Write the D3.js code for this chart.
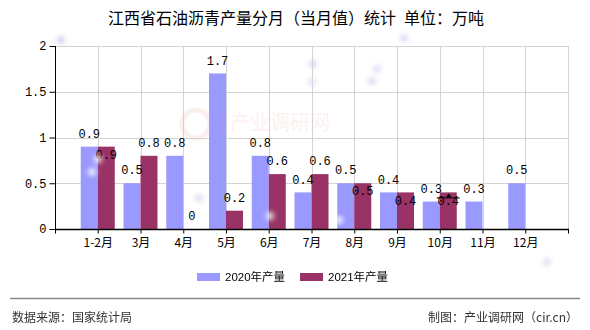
<!DOCTYPE html>
<html>
<head>
<meta charset="utf-8">
<script src="https://cdn.jsdelivr.net/npm/d3@7/dist/d3.min.js"></script>
<style>
  html, body { margin: 0; padding: 0; background: #fff; }
  svg { display: block; }
</style>
</head>
<body>
<svg id="chart" width="590" height="330"></svg>
<script>
// Jiangxi petroleum asphalt output by month (monthly value), unit: 10k tonnes
const months = ["1-2月", "3月", "4月", "5月", "6月", "7月", "8月", "9月", "10月", "11月", "12月"];
const output2020 = [0.9, 0.5, 0.8, 1.7, 0.8, 0.4, 0.5, 0.4, 0.3, 0.3, 0.5];
const output2021 = [0.9, 0.8, 0, 0.2, 0.6, 0.6, 0.5, 0.4, 0.4, null, null];
const yTicks = [0, 0.5, 1, 1.5, 2];
const seriesNames = ["2020年产量", "2021年产量"];
const seriesColors = ["#9999ff", "#993366"];

const svg = d3.select("#chart");
const W = 590, H = 330;
const plotL = 55, plotR = 568, plotT = 46, plotB = 229;
const barW = 17;
const numFont = "'Liberation Mono', 'DejaVu Sans Mono', monospace";
const cjkFont = "'Noto Sans CJK SC', 'Liberation Sans', sans-serif";

svg.append("rect").attr("width", W).attr("height", H).attr("fill", "#fff");

// Title
svg.append("text")
  .attr("x", 296).attr("y", 18).attr("dy", "0.35em")
  .attr("text-anchor", "middle")
  .style("font-family", cjkFont).style("font-size", "16px").attr("fill", "#000")
  .text("江西省石油沥青产量分月（当月值）统计\u2002单位：万吨");

// Category positions sit on the tick lines; an empty slot pads each end
const slots = ["", ...months, " "];
const x = d3.scalePoint().domain(slots).range([plotL, plotR]);
const y = d3.scaleLinear().domain([0, 2]).range([plotB, plotT]);

// Faint watermark
const wm = svg.append("g").attr("opacity", 0.08);
wm.append("circle").attr("cx", 196).attr("cy", 124).attr("r", 14)
  .attr("fill", "none").attr("stroke", "#e05030").attr("stroke-width", 5);
wm.append("text").attr("x", 230).attr("y", 123).attr("dy", "0.35em")
  .style("font-family", cjkFont).style("font-size", "20px").attr("fill", "#e05030")
  .text("产业调研网");

// Grid
const grid = svg.append("g").attr("stroke", "#d3d3d3").attr("stroke-width", 1);
grid.selectAll("line.h").data(yTicks.filter(d => d > 0)).join("line")
  .attr("x1", plotL).attr("x2", plotR)
  .attr("y1", d => Math.round(y(d)) + 0.5).attr("y2", d => Math.round(y(d)) + 0.5);
grid.selectAll("line.v").data(slots.slice(1)).join("line")
  .attr("x1", d => Math.round(x(d)) + 0.5).attr("x2", d => Math.round(x(d)) + 0.5)
  .attr("y1", plotT).attr("y2", plotB);

// Bars
const bars = svg.append("g");
bars.selectAll("rect.s20").data(months).join("rect")
  .attr("x", d => x(d) - barW)
  .attr("width", barW)
  .attr("y", (d, i) => y(output2020[i]))
  .attr("height", (d, i) => y(0) - y(output2020[i]))
  .attr("fill", seriesColors[0]);
bars.selectAll("rect.s21").data(months.filter((d, i) => output2021[i] != null)).join("rect")
  .attr("x", d => x(d))
  .attr("width", barW)
  .attr("y", d => y(output2021[months.indexOf(d)]))
  .attr("height", d => y(0) - y(output2021[months.indexOf(d)]))
  .attr("fill", seriesColors[1]);

// Axes
const yAxis = d3.axisLeft(y).tickValues(yTicks).tickSize(6).tickPadding(3)
  .tickFormat(d => String(d));
const gy = svg.append("g").attr("transform", `translate(${plotL + 0.5},0)`).call(yAxis);
gy.select(".domain").remove();
gy.append("line").attr("y1", plotT).attr("y2", plotB + 1).attr("stroke", "#000");
gy.selectAll(".tick line").attr("stroke", "#000");
gy.selectAll(".tick text").style("font-family", numFont).style("font-size", "12px").attr("fill", "#000");

const xAxis = d3.axisBottom(x).tickSize(4).tickPadding(5)
  .tickFormat(d => months.includes(d) ? d : "");
const gx = svg.append("g").attr("transform", `translate(0,${plotB + 0.5})`).call(xAxis);
gx.select(".domain").remove();
gx.append("line").attr("x1", plotL).attr("x2", plotR + 1).attr("stroke", "#000").attr("stroke-width", 1.5);
gx.selectAll(".tick line").attr("stroke", "#000");
gx.selectAll(".tick text").style("font-family", cjkFont).style("font-size", "12px").attr("fill", "#000");

// Value labels: above each bar; a 2021 label that would collide with its
// 2020 neighbour drops just inside the top of its own bar
const lab = svg.append("g")
  .style("font-family", numFont).style("font-size", "12px").attr("fill", "#000")
  .attr("text-anchor", "middle");
months.forEach((m, i) => {
  const v0 = output2020[i];
  const y0 = y(v0) - 13;
  lab.append("text").attr("x", x(m) - barW / 2).attr("y", y0).attr("dy", "0.35em").text(v0);
  const v1 = output2021[i];
  if (v1 == null) return;
  let y1 = y(v1) - 13;
  if (Math.abs(y1 - y0) < 14) y1 = y(v1) + 8;
  lab.append("text").attr("x", x(m) + barW / 2).attr("y", y1).attr("dy", "0.35em").text(v1);
});

// Small pointer marker on the October 2021 bar
{
  const mx = x("10月") + 9, my = y(output2021[months.indexOf("10月")]) + 5;
  svg.append("path")
    .attr("d", `M${mx},${my - 4} L${mx + 3},${my} L${mx - 3},${my} Z`).attr("fill", "#000");
  svg.append("line").attr("x1", mx - 12).attr("x2", mx + 11)
    .attr("y1", my + 0.5).attr("y2", my + 0.5).attr("stroke", "#000");
}

// Soft sparkle dots
const defs = svg.append("defs");
defs.append("filter").attr("id", "soft").append("feGaussianBlur").attr("stdDeviation", 2.5);
const dots = [
  [61, 40, "#c8c8ee"], [313, 64, "#d0d0f0"], [312, 82, "#dcdcf4"], [372, 81, "#d4d4f2"],
  [377, 69, "#dcdcf4"], [404, 38, "#d4d4f2"], [547, 262, "#dcdcf4"], [199, 198, "#d8d8f2"],
  [98, 159, "#ffffff"], [92, 172, "#ffffff"], [270, 216, "#ffffff"], [339, 220, "#ffffff"]
];
svg.append("g").attr("filter", "url(#soft)").selectAll("circle").data(dots).join("circle")
  .attr("cx", d => d[0]).attr("cy", d => d[1]).attr("r", 4)
  .attr("fill", d => d[2]).attr("opacity", 0.85);

// Legend
const legend = svg.append("g").style("font-family", "'Liberation Sans', " + cjkFont)
  .style("font-size", "11.5px");
const legX = [197, 300];
seriesNames.forEach((name, i) => {
  legend.append("rect").attr("x", legX[i]).attr("y", 273).attr("width", 23).attr("height", 8)
    .attr("fill", seriesColors[i]);
  legend.append("text").attr("x", legX[i] + 28).attr("y", 277).attr("dy", "0.35em")
    .attr("fill", "#000").text(name);
});

// Footer
svg.append("line").attr("x1", 10).attr("x2", 580).attr("y1", 298.5).attr("y2", 298.5)
  .attr("stroke", "#888").attr("stroke-width", 1.5);
svg.append("text").attr("x", 12).attr("y", 318).attr("dy", "0.35em")
  .style("font-family", cjkFont).style("font-size", "12px").attr("fill", "#333")
  .text("数据来源：国家统计局");
svg.append("text").attr("x", 578).attr("y", 318).attr("dy", "0.35em").attr("text-anchor", "end")
  .style("font-family", cjkFont).style("font-size", "12px").attr("fill", "#333")
  .text("制图：产业调研网（cir.cn）");
</script>
</body>
</html>
